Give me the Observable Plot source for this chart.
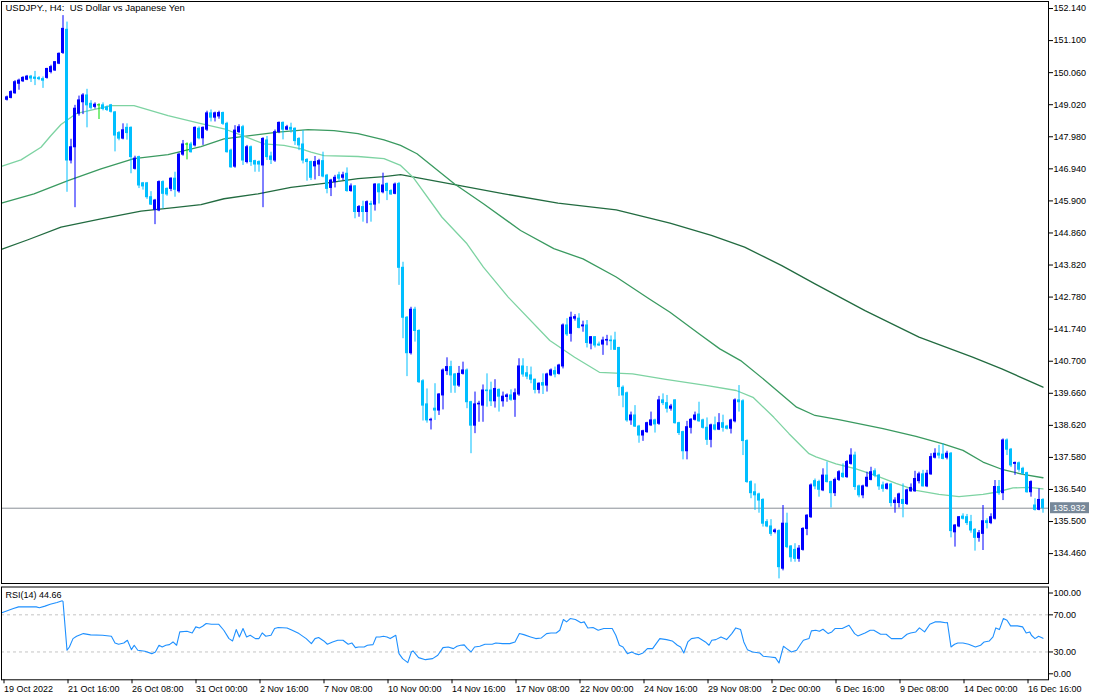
<!DOCTYPE html>
<html><head><meta charset="utf-8">
<script src="https://cdn.jsdelivr.net/npm/d3@7"></script>
<script src="https://cdn.jsdelivr.net/npm/@observablehq/plot@0.6"></script>
<style>
body{margin:0;background:#fff;}
#wrap{position:relative;width:1100px;height:700px;overflow:hidden;}
#main{position:absolute;left:0;top:0;}
#rsi{position:absolute;left:0;top:584px;}
</style></head><body><div id="wrap"><div id="main"></div><div id="rsi"></div></div>
<script>
const title = "USDJPY., H4:  US Dollar vs Japanese Yen";
const rsiTitle = "RSI(14) 44.66";
const lastClose = 135.932;
const priceTicks = [152.14,151.10,150.06,149.02,147.98,146.94,145.90,144.86,143.82,142.78,141.74,140.70,139.66,138.62,137.58,136.54,135.50,134.46];
const rsiMidTicks = [70,30];
const dateBars = [-1,15,31,47,63,79,95,111,127,143,159,175,191,207,223,239,255];
const dateLabels = ["19 Oct 2022","21 Oct 16:00","26 Oct 08:00","31 Oct 00:00","2 Nov 16:00","7 Nov 08:00","10 Nov 00:00","14 Nov 16:00","17 Nov 08:00","22 Nov 00:00","24 Nov 16:00","29 Nov 08:00","2 Dec 00:00","6 Dec 16:00","9 Dec 08:00","14 Dec 00:00","16 Dec 16:00"];

const open = [
149.18,149.24,149.39,149.70,149.78,149.83,149.93,149.90,149.88,149.85,
149.89,150.08,150.13,150.35,150.70,151.45,147.21,147.64,148.73,149.10,
149.32,149.05,148.95,149.00,149.00,148.93,149.00,148.77,148.10,147.92,
148.27,148.27,146.94,147.32,146.47,146.47,146.02,145.61,145.59,146.51,
146.29,146.29,146.62,146.21,147.40,147.73,147.73,147.70,148.24,147.93,
148.21,148.74,148.60,148.64,148.75,148.40,147.53,147.01,148.13,148.29,
147.16,147.64,147.19,147.16,147.05,147.86,147.34,147.21,148.13,148.43,
148.21,148.27,148.24,147.91,147.73,147.23,147.16,147.02,147.08,147.19,
146.72,146.32,146.51,146.73,146.65,146.78,146.22,146.37,145.54,145.70,
145.54,145.80,145.78,146.43,146.18,146.45,146.22,146.13,146.45,143.73,
142.11,140.96,142.37,141.68,140.05,139.30,138.78,139.16,139.10,139.59,
140.38,140.51,140.27,139.91,140.29,140.40,139.37,138.61,139.30,139.26,
139.75,139.75,139.40,139.77,139.40,139.54,139.59,139.45,139.62,140.53,
140.31,140.24,140.10,139.77,139.99,139.91,140.24,140.38,140.29,140.53,
141.86,141.59,142.08,142.08,141.83,141.86,141.27,141.48,141.24,141.24,
141.37,141.37,141.37,141.13,139.84,139.66,138.78,138.94,138.58,138.29,
138.40,138.62,138.78,138.67,139.43,139.34,139.16,139.43,138.69,138.40,
137.78,138.54,138.80,138.97,138.78,138.54,138.15,138.62,138.48,138.69,
138.58,138.51,138.75,139.43,139.40,138.11,136.78,136.45,136.38,136.20,
135.48,135.34,135.16,135.19,133.97,135.43,134.69,134.58,134.29,134.58,
135.26,135.64,136.81,136.78,136.51,136.99,136.78,136.42,136.85,137.05,
136.94,137.37,137.64,136.64,136.35,136.64,136.85,137.13,136.99,136.67,
136.56,136.70,136.10,136.10,136.20,136.07,136.48,136.48,136.81,137.03,
136.64,137.03,137.57,137.70,137.67,137.57,137.70,135.15,135.34,135.66,
135.64,135.48,135.23,134.97,135.10,135.51,135.45,135.59,136.62,136.42,
138.13,137.83,137.37,137.39,137.21,137.07,136.45,136.02,135.88,136.20];
const high = [
149.30,149.47,149.80,149.85,149.93,149.97,149.97,150.10,149.93,149.92,
150.20,150.30,150.42,150.70,151.91,151.70,147.90,149.00,149.30,149.38,
149.52,149.15,149.08,149.05,149.08,148.98,149.03,148.80,148.15,148.40,
148.40,148.30,147.35,147.35,146.50,146.50,146.20,145.95,146.55,146.55,
146.32,146.65,146.83,147.45,147.86,147.78,147.80,148.30,148.30,148.30,
148.81,148.85,148.78,148.81,148.78,148.45,147.58,148.34,148.37,148.35,
147.70,147.68,147.22,147.20,147.95,147.99,147.48,148.20,148.46,148.46,
148.35,148.42,148.27,147.95,148.18,147.27,147.19,147.34,147.25,147.48,
146.76,146.60,146.73,146.83,146.83,146.97,146.45,146.40,145.75,145.89,
145.90,145.89,146.46,146.46,146.80,146.48,146.26,146.48,146.50,143.91,
142.15,142.45,142.45,141.72,140.10,139.80,138.85,139.97,139.65,140.45,
140.81,140.70,140.30,140.53,140.67,140.45,139.40,139.70,139.40,139.93,
140.29,140.02,140.10,139.80,139.70,139.64,139.77,139.80,140.78,140.78,
140.53,140.51,140.12,140.00,140.29,140.31,140.45,140.51,140.60,141.91,
142.08,142.29,142.21,142.24,142.00,142.02,141.50,141.50,141.32,141.48,
141.54,141.52,141.64,141.15,139.90,139.70,139.05,139.26,138.62,138.46,
138.72,139.05,138.82,139.56,139.64,139.59,139.30,139.45,138.72,138.43,
138.75,138.84,139.05,139.37,138.82,138.86,138.66,138.89,139.00,138.95,
138.62,138.82,139.48,139.91,139.45,138.15,136.82,136.72,136.42,136.24,
135.56,135.56,135.26,135.23,136.02,135.77,134.72,134.78,134.72,135.30,
135.72,136.72,136.88,136.84,137.21,137.43,136.81,136.91,137.15,137.37,
137.48,137.86,137.75,136.68,136.68,137.10,137.26,137.21,137.03,136.78,
136.74,136.74,136.27,136.42,136.72,136.55,136.72,137.13,137.10,137.16,
137.16,137.70,137.86,137.97,138.02,137.78,137.74,135.40,135.66,135.75,
135.73,135.70,135.27,135.21,136.02,135.59,135.75,136.83,136.83,138.18,
138.18,137.87,137.43,137.43,137.26,137.10,136.82,136.24,136.56,136.24];
const low = [
149.14,149.21,149.36,149.49,149.74,149.80,149.74,149.64,149.80,149.55,
149.85,150.02,150.10,150.32,150.65,146.18,147.10,145.68,148.65,148.70,
148.27,148.85,148.88,148.54,148.82,148.80,148.75,147.49,147.85,147.88,
147.87,146.78,146.90,146.30,146.25,145.95,145.75,145.13,145.55,145.64,
146.05,146.20,146.02,146.15,147.35,147.23,147.45,147.65,147.88,147.70,
148.15,148.46,148.46,148.55,148.35,147.45,146.96,146.96,148.08,147.05,
147.10,147.02,146.83,146.83,145.68,147.21,147.08,147.15,148.08,147.88,
148.18,148.10,147.70,147.53,147.10,146.54,146.56,146.58,146.69,146.65,
146.13,146.04,146.32,146.51,146.56,146.18,146.18,145.32,145.37,145.21,
145.16,145.21,145.57,145.80,146.13,145.91,146.08,146.10,143.16,141.43,
140.20,140.90,141.32,139.98,138.76,138.69,138.47,138.78,138.94,139.12,
140.24,139.66,139.66,139.85,140.25,139.16,137.70,138.35,138.72,138.72,
139.21,139.23,139.18,139.05,139.21,139.37,139.40,138.88,139.56,140.18,
140.10,139.97,139.64,139.64,139.62,139.70,140.20,140.16,140.25,140.45,
141.50,141.32,142.00,141.75,141.64,141.13,141.07,141.13,141.18,140.89,
141.20,141.05,141.05,139.56,139.19,138.72,138.62,138.55,138.04,138.10,
138.36,138.58,138.37,138.62,139.26,139.02,139.08,138.66,138.29,137.50,
137.50,138.34,138.76,138.72,138.50,137.97,137.89,138.44,138.45,138.40,
138.47,138.34,138.70,139.05,137.64,136.74,136.24,135.86,135.77,135.32,
135.30,135.02,135.10,133.64,133.90,134.62,134.18,134.18,134.18,134.54,
135.04,135.60,136.53,136.29,136.47,136.75,135.94,136.31,136.80,136.90,
136.90,137.33,136.51,136.27,136.24,136.60,136.82,136.92,136.51,136.45,
136.52,135.97,135.77,135.94,135.62,136.02,136.45,136.45,136.72,136.62,
136.60,137.00,137.53,137.53,137.50,137.50,134.97,134.67,135.30,135.55,
135.37,135.12,134.54,134.83,134.56,135.26,135.40,135.55,136.35,136.18,
137.64,137.25,137.00,137.10,137.00,136.42,136.29,135.84,135.85,135.77];
const close = [
149.26,149.43,149.75,149.80,149.89,149.93,149.87,149.86,149.85,149.80,
150.18,150.24,150.40,150.67,151.48,147.21,147.64,148.89,149.16,149.32,
149.00,148.92,149.02,149.00,148.88,148.85,148.79,148.02,147.92,148.19,
148.10,147.32,147.27,146.40,146.37,146.02,145.78,145.91,146.51,146.13,
146.11,146.62,146.26,147.40,147.73,147.73,147.48,148.27,147.93,148.27,
148.74,148.60,148.74,148.75,148.40,147.48,146.99,148.18,148.29,147.21,
147.64,147.16,147.08,147.08,147.91,147.32,147.23,148.13,148.43,148.21,
148.29,148.21,147.84,147.70,147.21,147.16,146.65,147.16,147.19,146.69,
146.29,146.56,146.65,146.62,146.73,146.22,146.37,145.54,145.70,145.54,
145.86,145.77,146.43,146.18,146.40,146.22,146.11,146.43,143.73,142.11,
140.96,142.37,141.68,140.02,139.26,138.78,138.80,139.10,139.62,140.40,
140.51,140.24,139.91,140.29,140.40,139.37,138.61,139.30,139.32,139.75,
139.73,139.40,139.80,139.55,139.55,139.59,139.45,139.66,140.53,140.27,
140.20,140.10,139.77,139.97,139.91,140.27,140.40,140.27,140.56,141.86,
141.57,142.11,142.13,141.78,141.86,141.29,141.48,141.21,141.21,141.37,
141.39,141.35,141.07,139.86,139.59,138.78,138.94,138.58,138.29,138.43,
138.69,138.78,138.65,139.43,139.34,139.16,139.23,138.69,138.37,137.78,
138.56,138.80,138.94,138.75,138.54,138.15,138.62,138.48,138.69,138.54,
138.51,138.78,139.43,139.37,138.11,136.78,136.42,136.35,136.18,135.43,
135.34,135.10,135.21,134.02,135.43,134.67,134.34,134.29,134.62,135.26,
135.69,136.67,136.64,136.53,136.99,136.78,136.42,136.85,137.10,136.94,
137.43,137.64,136.62,136.35,136.64,136.92,137.10,136.99,136.64,136.56,
136.70,136.10,136.18,136.38,136.07,136.51,136.59,136.88,137.03,136.64,
137.05,137.59,137.70,137.64,137.53,137.70,135.19,135.37,135.64,135.59,
135.45,135.21,134.97,135.12,135.51,135.45,135.64,136.62,136.42,138.13,
137.83,137.32,137.40,137.18,137.05,136.45,136.78,135.88,136.20,135.932];

// moving averages: [bar position, price]
const maFast = [[-1.4,147.02],[3.5,147.23],[8.5,147.64],[11,148.02],[13.5,148.38],[17.25,148.73],[26,148.99],[31.75,148.99],[40.25,148.67],[48.5,148.41],[54.25,148.24],[61,147.91],[64.25,147.75],[69.25,147.70],[73.5,147.59],[76,147.48],[79.25,147.37],[87.75,147.34],[94.25,147.27],[98.4,147.05],[101.5,146.67],[108.75,145.37],[115,144.51],[119.1,143.75],[125.3,142.78],[135.7,141.37],[141.9,140.83],[148.1,140.34],[156.4,140.29],[164.7,140.11],[175.1,139.91],[182.3,139.75],[186.5,139.53],[191.7,138.88],[195.5,138.35],[200.5,137.70],[202.25,137.60],[207.25,137.37],[212.25,137.21],[217.25,136.99],[222.25,136.74],[227.25,136.51],[233,136.38],[238,136.31],[244,136.38],[247.25,136.45],[251.5,136.59],[255.5,136.61],[259,136.56]];
const maMid = [[-1.4,145.83],[6.75,146.13],[15.25,146.56],[23.5,146.94],[31.75,147.27],[40.25,147.40],[48.5,147.66],[54.25,147.91],[62.75,148.05],[67.75,148.13],[75.25,148.21],[81.75,148.18],[87.75,148.08],[94.25,147.88],[98.4,147.70],[102.5,147.43],[111.9,146.45],[119.1,145.81],[128.4,144.94],[136.7,144.35],[144,144.02],[152.3,143.43],[160.6,142.72],[165.75,142.29],[173,141.59],[178.2,141.10],[183.4,140.72],[189.6,140.07],[197.4,139.21],[202,138.94],[208.25,138.80],[219,138.51],[227.25,138.26],[234,138.02],[239,137.81],[244,137.43],[249,137.18],[254,137.03],[259,136.92]];
const maSlow = [[-1.4,144.33],[5.25,144.64],[13.5,145.05],[23.5,145.32],[33.5,145.57],[41.75,145.68],[48.5,145.78],[54.25,145.97],[62.75,146.13],[71,146.34],[79.25,146.47],[87.75,146.62],[94.25,146.69],[98.4,146.75],[111.9,146.43],[124.3,146.13],[137.75,145.83],[152.3,145.61],[165.75,145.18],[176.1,144.78],[184.4,144.40],[193.7,143.80],[202,143.21],[214.5,142.34],[228,141.48],[241.4,140.83],[248.7,140.45],[259,139.86]];

// RSI(14): [bar position, value]
const rsiPoints = [[-1.3,72.2],[1.6,76.8],[2.9,78.6],[7.3,78.6],[8.1,77.6],[9.5,79.4],[10.8,81.5],[12.5,83.3],[13.8,85.1],[14,84.5],[15,31.8],[15.6,35.4],[16.5,44.4],[17.4,46.9],[19.1,49.8],[20.9,48.4],[23.9,48.0],[26.1,46.9],[27,39.7],[27.9,38.3],[29.2,39.7],[30.1,42.6],[31.1,32.5],[31.8,37.2],[32.7,31.8],[34.5,30.7],[36.2,28.2],[37.1,30.0],[38,37.2],[38.8,35.4],[39.7,37.2],[40.6,37.9],[41.5,40.8],[42.4,37.2],[43.2,51.6],[45,52.3],[46.3,50.5],[47.2,57.0],[48.1,55.9],[48.9,57.7],[49.8,60.6],[51.1,59.9],[52.9,59.9],[54.2,53.4],[55.5,44.4],[56.4,41.9],[57.3,54.1],[58.1,46.2],[59,55.2],[59.9,46.2],[60.8,48.0],[62.1,44.4],[63,44.4],[63.8,50.5],[64.7,46.9],[66,48.0],[66.9,55.2],[67.8,56.3],[70,55.9],[71.3,53.4],[73,49.8],[74.8,44.4],[76.1,39.0],[77,44.4],[77.9,45.5],[79.2,41.9],[80.1,38.3],[81.4,40.8],[82.7,42.6],[84,42.6],[85.3,38.3],[86.2,39.7],[87.1,34.7],[87.9,35.4],[89.3,35.4],[90.1,37.2],[91.5,37.9],[92.3,46.2],[93.2,46.2],[94.1,46.9],[95,46.2],[95.8,44.4],[97.2,48.0],[98,28.2],[98.9,22.8],[100.2,18.5],[101.1,30.0],[101.5,31.1],[102.9,23.9],[104.6,21.7],[106.4,22.8],[107.7,26.4],[109,34.7],[110.3,35.4],[111.6,33.6],[112.5,36.1],[113.4,37.2],[114.3,37.6],[115.1,33.6],[116,30.0],[116.9,35.4],[118.2,36.1],[119.5,38.3],[121.3,38.3],[122.2,39.7],[123.9,39.0],[125.7,39.0],[127,40.8],[128.1,49.8],[129.2,48.7],[130.9,46.2],[132.2,44.4],[133.6,45.1],[134.9,49.8],[136,50.5],[137.3,50.5],[138.2,53.4],[139.1,65.0],[139.9,62.4],[140.8,66.0],[142.1,65.0],[143.5,61.4],[144.3,62.4],[145.2,55.9],[146.5,56.3],[147.8,53.4],[149.2,55.2],[151.3,55.2],[152.2,48.0],[153.1,37.2],[154,35.4],[155.1,28.2],[156.2,30.0],[157,28.2],[157.9,27.1],[159,28.9],[160.1,33.6],[161.4,33.6],[162.3,39.0],[163.2,44.4],[164.9,43.3],[166.3,41.9],[167.6,37.2],[168.4,35.4],[169.2,28.9],[170.2,40.8],[171.1,44.4],[172.8,45.5],[174.6,40.8],[175.5,37.2],[176.2,42.6],[177.2,43.3],[178.5,46.2],[179.9,43.3],[181.2,49.8],[182.2,55.9],[183.4,54.1],[184.2,40.8],[185.1,32.5],[186.4,30.0],[188.2,28.9],[189.1,25.3],[190.8,24.6],[192.1,23.9],[193,18.1],[194.1,36.1],[194.9,33.6],[196.1,30.0],[197.4,31.8],[198.4,38.3],[199.1,42.6],[200.5,44.4],[201.1,52.7],[202.2,53.4],[203.1,52.3],[204,54.5],[205.3,49.8],[206.2,51.6],[207,55.2],[208.8,55.2],[210.5,58.8],[211.9,49.8],[212.7,47.3],[214.5,50.5],[215.8,53.4],[216.7,53.4],[218.4,49.1],[219.8,49.1],[221.1,44.4],[222.8,44.4],[223.7,44.4],[225,49.1],[225.9,50.5],[227.2,51.6],[228.1,55.9],[229.4,51.6],[230.7,59.9],[232,62.4],[233.3,62.4],[234.7,61.4],[235.1,61.7],[236,35.4],[236.9,38.3],[237.7,39.7],[239,39.7],[240.4,38.3],[242.1,35.4],[243.4,37.2],[244.3,40.8],[245.6,41.9],[246.5,46.2],[247.2,55.9],[248.1,54.1],[249.1,66.0],[250,64.2],[250.9,58.1],[252.6,58.1],[253.9,57.0],[254.8,50.5],[255.7,51.6],[256.1,48.0],[257,44.4],[257.9,46.9],[259,44.7]];

const candles = close.map((c, i) => ({i, o: open[i], c, h: Math.max(high[i], open[i], c), l: Math.min(low[i], open[i], c)}));
const colorOf = d => d.c > d.o ? "#0000FF" : d.c < d.o ? "#00BFFF" : "#00DD00";
const xDomain = [-1.375, 260.375];
const font = "'Liberation Sans', Arial, sans-serif";
const toObj = arr => arr.map(([i, v]) => ({i, v}));
const fix2 = d => d.toFixed(2);

const main = Plot.plot({
  width: 1100, height: 584,
  marginLeft: 1, marginRight: 52, marginTop: 1, marginBottom: 1,
  x: {domain: xDomain, axis: null},
  y: {domain: [133.49, 152.368], axis: null},
  color: {type: "identity"},
  style: {fontFamily: font, fontSize: "9px", color: "black", background: "white", overflow: "visible"},
  marks: [
    Plot.ruleY([lastClose], {stroke: "#8a9096", strokeWidth: 1}),
    Plot.line(toObj(maSlow), {x: "i", y: "v", stroke: "#226b40", strokeWidth: 1.3, clip: true}),
    Plot.line(toObj(maMid), {x: "i", y: "v", stroke: "#3a9a60", strokeWidth: 1.3, clip: true}),
    Plot.line(toObj(maFast), {x: "i", y: "v", stroke: "#7dd3a2", strokeWidth: 1.3, clip: true}),
    Plot.ruleX(candles, {x: "i", y1: "l", y2: "h", stroke: colorOf, strokeWidth: 1}),
    Plot.rect(candles, {x1: d => d.i - 0.375, x2: d => d.i + 0.375, y1: "o", y2: "c", fill: colorOf, insetTop: -0.5, insetBottom: -0.5}),
    Plot.frame({stroke: "black"}),
    Plot.axisY({anchor: "right", label: null, ticks: priceTicks, tickFormat: d => d.toFixed(3), tickSize: 4, tickPadding: 1}),
    Plot.text([title], {frameAnchor: "top-left", dx: 4, dy: 3, fontSize: 9.5, fill: "black"})
  ]
});
document.getElementById("main").appendChild(main);
{
  const yy = main.scale("y").apply(lastClose);
  const svg = d3.select(main);
  svg.append("rect").attr("x", 1050).attr("y", yy - 5.5).attr("width", 39).attr("height", 11).attr("fill", "#778899");
  svg.append("text").attr("x", 1053).attr("y", yy).attr("dy", "0.34em").attr("text-anchor", "start").attr("fill", "white")
    .attr("font-family", font).attr("font-size", 9).text(lastClose.toFixed(3));
}

const rsi = Plot.plot({
  width: 1100, height: 116,
  marginLeft: 1, marginRight: 52, marginTop: 2.5, marginBottom: 20.7,
  x: {domain: xDomain, axis: null},
  y: {domain: [0, 100], axis: null},
  style: {fontFamily: font, fontSize: "9px", color: "black", background: "white", overflow: "visible"},
  marks: [
    Plot.ruleY(rsiMidTicks, {stroke: "#c4c4c4", strokeDasharray: "3,3"}),
    Plot.line(toObj(rsiPoints), {x: "i", y: "v", stroke: "#1E90FF", strokeWidth: 1.1, clip: true}),
    Plot.frame({stroke: "black"}),
    Plot.axisY({anchor: "right", label: null, ticks: rsiMidTicks, tickFormat: fix2, tickSize: 4, tickPadding: 1}),
    Plot.axisY({anchor: "right", label: null, ticks: [100], tickFormat: fix2, tickSize: 4, tickPadding: 1, dy: 6}),
    Plot.axisY({anchor: "right", label: null, ticks: [0], tickFormat: fix2, tickSize: 4, tickPadding: 1, dy: -6}),
    Plot.axisX({anchor: "bottom", label: null, ticks: dateBars, tickFormat: d => dateLabels[dateBars.indexOf(d)], textAnchor: "start", tickSize: 4, tickPadding: 2, dx: 1}),
    Plot.text([rsiTitle], {frameAnchor: "top-left", dx: 4, dy: 5, fill: "black"})
  ]
});
document.getElementById("rsi").appendChild(rsi);
</script>
</body></html>
